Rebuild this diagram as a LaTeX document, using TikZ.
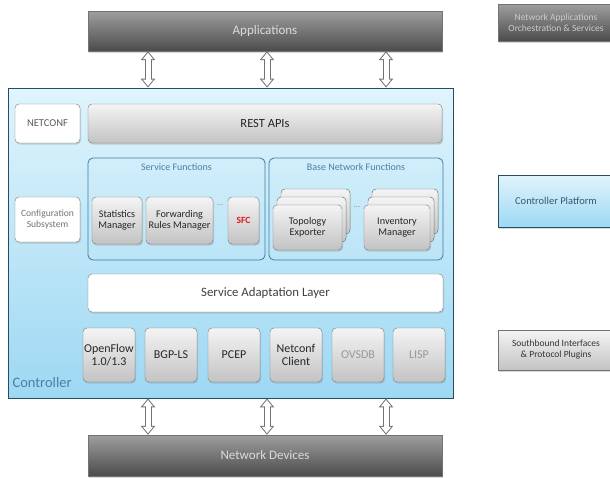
\documentclass[tikz,border=0pt]{standalone}
\usepackage{fontspec}
\setmainfont{Carlito}
\usetikzlibrary{arrows.meta,shadows,positioning}

\definecolor{barTop}{HTML}{9E9E9E}
\definecolor{barBot}{HTML}{4C4C4C}
\definecolor{skyTop}{HTML}{E0F4FC}
\definecolor{skyBot}{HTML}{9DD8F3}
\definecolor{skyLine}{HTML}{264D66}
\definecolor{greyTop}{HTML}{F4F4F4}
\definecolor{greyBot}{HTML}{C3C3C3}
\definecolor{greyLine}{HTML}{7A7A7A}
\definecolor{groupLine}{HTML}{3B7BA3}
\definecolor{groupText}{HTML}{4A7FA6}
\definecolor{sfcRed}{HTML}{E0191E}

\begin{document}
\begin{tikzpicture}[
    x=1pt, y=-1pt,
    bar/.style={rectangle, draw=black!55, top color=barTop, bottom color=barBot, text=white!86!black, minimum width=354pt, minimum height=40pt, font=\fontsize{13}{15}\selectfont, drop shadow={shadow xshift=1pt, shadow yshift=-1.5pt, opacity=.3}},
    legend/.style={rectangle, draw=black!55, minimum width=116pt, align=center, font=\fontsize{9.5}{11}\selectfont, drop shadow={shadow xshift=1pt, shadow yshift=-1.5pt, opacity=.3}},
    module/.style={rectangle, rounded corners=4pt, draw=greyLine, top color=greyTop, bottom color=greyBot, align=center, inner sep=1pt, text=black!85, font=\fontsize{10.2}{11.5}\selectfont, drop shadow={shadow xshift=1pt, shadow yshift=-1.5pt, opacity=.3}},
    plugin/.style={module, minimum width=52pt, minimum height=54pt, font=\fontsize{12}{12.5}\selectfont},
    plain/.style={rectangle, rounded corners=4pt, draw=greyLine, fill=white, align=center, inner sep=1pt, drop shadow={shadow xshift=1pt, shadow yshift=-1.5pt, opacity=.3}},
    stack/.style={module, minimum height=45pt, double copy shadow={shadow xshift=4pt, shadow yshift=8pt, top color=greyTop, bottom color=greyBot, draw=greyLine}},
    group/.style={rectangle, rounded corners=5pt, draw=groupLine, line width=.8pt, minimum height=102pt},
    grouptitle/.style={text=groupText, font=\fontsize{10}{11}\selectfont},
    hollow/.style={draw=black!55, line width=7pt, {Triangle[length=9pt,width=14pt]}-{Triangle[length=9pt,width=14pt]},
        postaction={draw=white, line width=5pt, shorten <=1.6pt, shorten >=1.6pt, {Triangle[length=6.4pt,width=10pt]}-{Triangle[length=6.4pt,width=10pt]}}}
]
    \useasboundingbox (0,0) rectangle (610,477);

    % Controller frame
    \node[rectangle, draw=skyLine, line width=.8pt, top color=skyTop, bottom color=skyBot, minimum width=445pt, minimum height=310pt] (ctrl) at (230.5,243) {};
    \node[anchor=west, text=groupText, font=\fontsize{14.5}{16}\selectfont] (ctrlname) at (9,383) {Controller};

    % Northbound
    \node[bar] (apps) at (265,31) {Applications};
    \node[plain, minimum width=65pt, minimum height=39pt, text=black!65, font=\fontsize{10.5}{12}\selectfont] (netconf) at (47.5,123.5) {NETCONF};
    \node[module, minimum width=354pt, minimum height=39pt, font=\fontsize{12.5}{14}\selectfont] (rest) at (265,123.5) {REST APIs};

    % Service Functions
    \node[group, minimum width=177pt] (sfgroup) at (176.5,209) {};
    \node[grouptitle, below=2pt of sfgroup.north] (sftitle) {Service Functions};
    \node[plain, minimum width=65pt, minimum height=45pt, text=black!55, font=\fontsize{9.6}{11}\selectfont] (config) at (47.5,219.5) {Configuration\\Subsystem};
    \node[module, minimum width=50pt, minimum height=47pt] (stats) at (117,220.5) {Statistics\\Manager};
    \node[module, minimum width=67pt, minimum height=47pt] (fwd) at (179.5,220.5) {Forwarding\\Rules Manager};
    \node[text=black!50, font=\footnotesize] (dotsA) at (220,205) {...};
    \node[module, minimum width=31pt, minimum height=47pt, text=sfcRed, font=\fontsize{9.5}{10}\selectfont\bfseries] (sfc) at (243.5,220.5) {SFC};

    % Base Network Functions
    \node[group, minimum width=174pt] (bnfgroup) at (356,209) {};
    \node[grouptitle, below=2pt of bnfgroup.north] (bnftitle) {Base Network Functions};
    \node[stack, minimum width=69pt] (topo) at (307.5,227.5) {Topology\\Exporter};
    \node[text=black!50, font=\footnotesize] (dotsB) at (357,207) {...};
    \node[stack, minimum width=66pt] (inv) at (397,227.5) {Inventory\\Manager};

    % Adaptation layer
    \node[plain, minimum width=355pt, minimum height=38pt, text=black!75, font=\fontsize{12.8}{14}\selectfont] (sal) at (265.5,293) {Service Adaptation Layer};

    % Southbound plugins
    \node[plugin] (openflow) at (109,355) {OpenFlow\\1.0/1.3};
    \node[plugin] (bgpls) at (171,355) {BGP-LS};
    \node[plugin] (pcep) at (234,355) {PCEP};
    \node[plugin] (ncclient) at (296,355) {Netconf\\Client};
    \node[plugin, text=black!40] (ovsdb) at (358,355) {OVSDB};
    \node[plugin, text=black!40] (lisp) at (419,355) {LISP};

    % Devices
    \node[bar, minimum height=41pt] (devices) at (265,455.5) {Network Devices};

    % Legend
    \node[legend, top color=barTop, bottom color=barBot, text=white!80!black, minimum height=37pt] (lgapps) at (556,22.5) {Network Applications\\Orchestration \& Services};
    \node[legend, draw=skyLine, top color=skyTop, bottom color=skyBot, text=groupText!70!black, minimum height=52pt, font=\fontsize{10.5}{12}\selectfont] (lgctrl) at (556,201) {Controller Platform};
    \node[legend, top color=greyTop, bottom color=greyBot, text=black!80, minimum height=40pt] (lgsouth) at (556,350) {Southbound Interfaces\\\& Protocol Plugins};

    % Connections
    \coordinate (colL) at (148,0);
    \coordinate (colM) at (267,0);
    \coordinate (colR) at (386,0);
    \draw[hollow] (apps.south -| colL) -- (ctrl.north -| colL);
    \draw[hollow] (apps.south -| colM) -- (ctrl.north -| colM);
    \draw[hollow] (apps.south -| colR) -- (ctrl.north -| colR);
    \draw[hollow] (ctrl.south -| colL) -- (devices.north -| colL);
    \draw[hollow] (ctrl.south -| colM) -- (devices.north -| colM);
    \draw[hollow] (ctrl.south -| colR) -- (devices.north -| colR);

\end{tikzpicture}
\end{document}
